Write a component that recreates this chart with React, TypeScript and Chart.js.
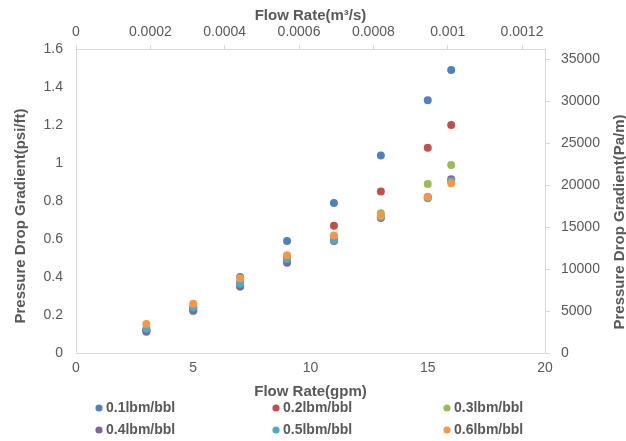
import React, { useEffect, useRef } from "react";
import { Chart, registerables } from "chart.js";

Chart.register(...registerables);

// ---- data ----
const flowGpm = [3, 5, 7, 9, 11, 13, 15, 16];
const seriesLabels = ["0.1lbm/bbl", "0.2lbm/bbl", "0.3lbm/bbl", "0.4lbm/bbl", "0.5lbm/bbl", "0.6lbm/bbl"];
const grad01 = [0.12, 0.24, 0.40, 0.59, 0.79, 1.04, 1.33, 1.49];
const grad02 = [0.12, 0.23, 0.37, 0.49, 0.67, 0.85, 1.08, 1.20];
const grad03 = [0.11, 0.22, 0.35, 0.50, 0.60, 0.735, 0.89, 0.99];
const grad04 = [0.115, 0.225, 0.35, 0.475, 0.59, 0.71, 0.82, 0.915];
const grad05 = [0.128, 0.24, 0.365, 0.495, 0.595, 0.715, 0.815, 0.905];
const grad06 = [0.153, 0.259, 0.394, 0.514, 0.618, 0.722, 0.823, 0.893];
const seriesValues = [grad01, grad02, grad03, grad04, grad05, grad06];
const seriesColors = ["#4F81BD", "#C0504D", "#9BBB59", "#8064A2", "#4BACC6", "#F79646"];

const bottomTicks = [0, 5, 10, 15, 20];
const topTicks = [0, 0.0002, 0.0004, 0.0006, 0.0008, 0.001, 0.0012];
const leftTicks = [0, 0.2, 0.4, 0.6, 0.8, 1, 1.2, 1.4, 1.6];
const rightTicks = [0, 5000, 10000, 15000, 20000, 25000, 30000, 35000];

const bottomTitle = "Flow Rate(gpm)";
const topTitle = "Flow Rate(m³/s)";
const leftTitle = "Pressure Drop Gradient(psi/ft)";
const rightTitle = "Pressure Drop Gradient(Pa/m)";

const gpmMax = 20;
const gpmToM3s = 6.309e-5;
const psiMax = 1.6;
const psiftToPam = 22620.6;

// ---- styles ----
const FONT = '"Liberation Sans", Arial, sans-serif';
const GREY = "#595959";
const AXIS = "#d9d9d9";

const overlayPlugin = {
  id: "overlay",
  afterDraw(chart: any) {
    const { ctx, chartArea: ca } = chart;
    const cx = (ca.left + ca.right) / 2;
    ctx.save();
    ctx.fillStyle = GREY;
    ctx.textAlign = "center";
    ctx.textBaseline = "middle";
    ctx.font = `bold 15px ${FONT}`;
    ctx.fillText(bottomTitle, cx, ca.bottom + 39);
    ctx.fillText(topTitle, cx, 16);

    ctx.save();
    ctx.translate(21, 216);
    ctx.rotate(-Math.PI / 2);
    ctx.fillText(leftTitle, 0, 0);
    ctx.restore();

    ctx.save();
    ctx.translate(620, 222);
    ctx.rotate(-Math.PI / 2);
    ctx.fillText(rightTitle, 0, 0);
    ctx.restore();

    // legend
    const colX = [99, 276, 447];
    const rowY = [408, 430];
    ctx.font = `bold 14px ${FONT}`;
    ctx.textAlign = "left";
    chart.data.datasets.forEach((ds: any, i: number) => {
      const mx = colX[i % 3];
      const my = rowY[Math.floor(i / 3)];
      ctx.beginPath();
      ctx.fillStyle = ds.backgroundColor;
      ctx.arc(mx, my, 3.6, 0, Math.PI * 2);
      ctx.fill();
      ctx.fillStyle = GREY;
      ctx.fillText(ds.label, mx + 7, my);
    });
    ctx.restore();
  },
};

const setTicks = (vals: number[]) => (s: any) => {
  s.ticks = vals.map((value) => ({ value }));
};

export default function App() {
  const ref = useRef<HTMLCanvasElement | null>(null);
  useEffect(() => {
    document.body.style.margin = "0";
    const tickFont = { family: FONT, size: 14 };
    const chart = new Chart(ref.current as HTMLCanvasElement, {
      type: "scatter",
      data: {
        datasets: seriesValues.map((vals, i) => ({
          label: seriesLabels[i],
          data: flowGpm.map((x, j) => ({ x, y: vals[j] })),
          backgroundColor: seriesColors[i],
          borderColor: seriesColors[i],
          borderWidth: 0,
          pointRadius: 4,
          pointHoverRadius: 4,
          xAxisID: "x",
          yAxisID: "y",
          order: seriesValues.length - i,
        })),
      },
      options: {
        animation: false,
        responsive: false,
        devicePixelRatio: 1,
        layout: { padding: 0 },
        plugins: { legend: { display: false }, tooltip: { enabled: false } },
        scales: {
          x: {
            type: "linear",
            position: "bottom",
            min: 0,
            max: gpmMax,
            afterBuildTicks: setTicks(bottomTicks),
            ticks: { color: GREY, font: tickFont, padding: 7, maxRotation: 0, autoSkip: false },
            grid: { display: false, drawTicks: false },
            border: { color: AXIS, width: 1 },
            afterFit: (s: any) => { s.height = 88; },
          },
          x2: {
            type: "linear",
            position: "top",
            min: 0,
            max: gpmMax * gpmToM3s,
            afterBuildTicks: setTicks(topTicks),
            ticks: {
              color: GREY,
              font: tickFont,
              padding: 4,
              maxRotation: 0,
              autoSkip: false,
              callback: (v: any) => String(+Number(v).toFixed(6)),
            },
            grid: { display: true, drawOnChartArea: false, drawTicks: true, tickLength: 4, color: AXIS },
            border: { color: AXIS, width: 1 },
            afterFit: (s: any) => { s.height = 49; },
          },
          y: {
            type: "linear",
            position: "left",
            min: 0,
            max: psiMax,
            afterBuildTicks: setTicks(leftTicks),
            ticks: {
              color: GREY,
              font: tickFont,
              padding: 13,
              autoSkip: false,
              callback: (v: any) => String(+Number(v).toFixed(4)),
            },
            grid: { display: false, drawTicks: false },
            border: { color: AXIS, width: 1 },
            afterFit: (s: any) => { s.width = 76; },
          },
          y2: {
            type: "linear",
            position: "right",
            min: 0,
            max: psiMax * psiftToPam,
            afterBuildTicks: setTicks(rightTicks),
            ticks: {
              color: GREY,
              font: tickFont,
              padding: 11,
              autoSkip: false,
              callback: (v: any) => String(Math.round(Number(v))),
            },
            grid: { display: true, drawOnChartArea: false, drawTicks: true, tickLength: 5, color: AXIS },
            border: { color: AXIS, width: 1 },
            afterFit: (s: any) => { s.width = 81; },
          },
        },
      } as any,
      plugins: [overlayPlugin],
    });
    return () => chart.destroy();
  }, []);
  return (
    <div style={{ width: 626, height: 441 }}>
      <canvas ref={ref} width={626} height={441} />
    </div>
  );
}
